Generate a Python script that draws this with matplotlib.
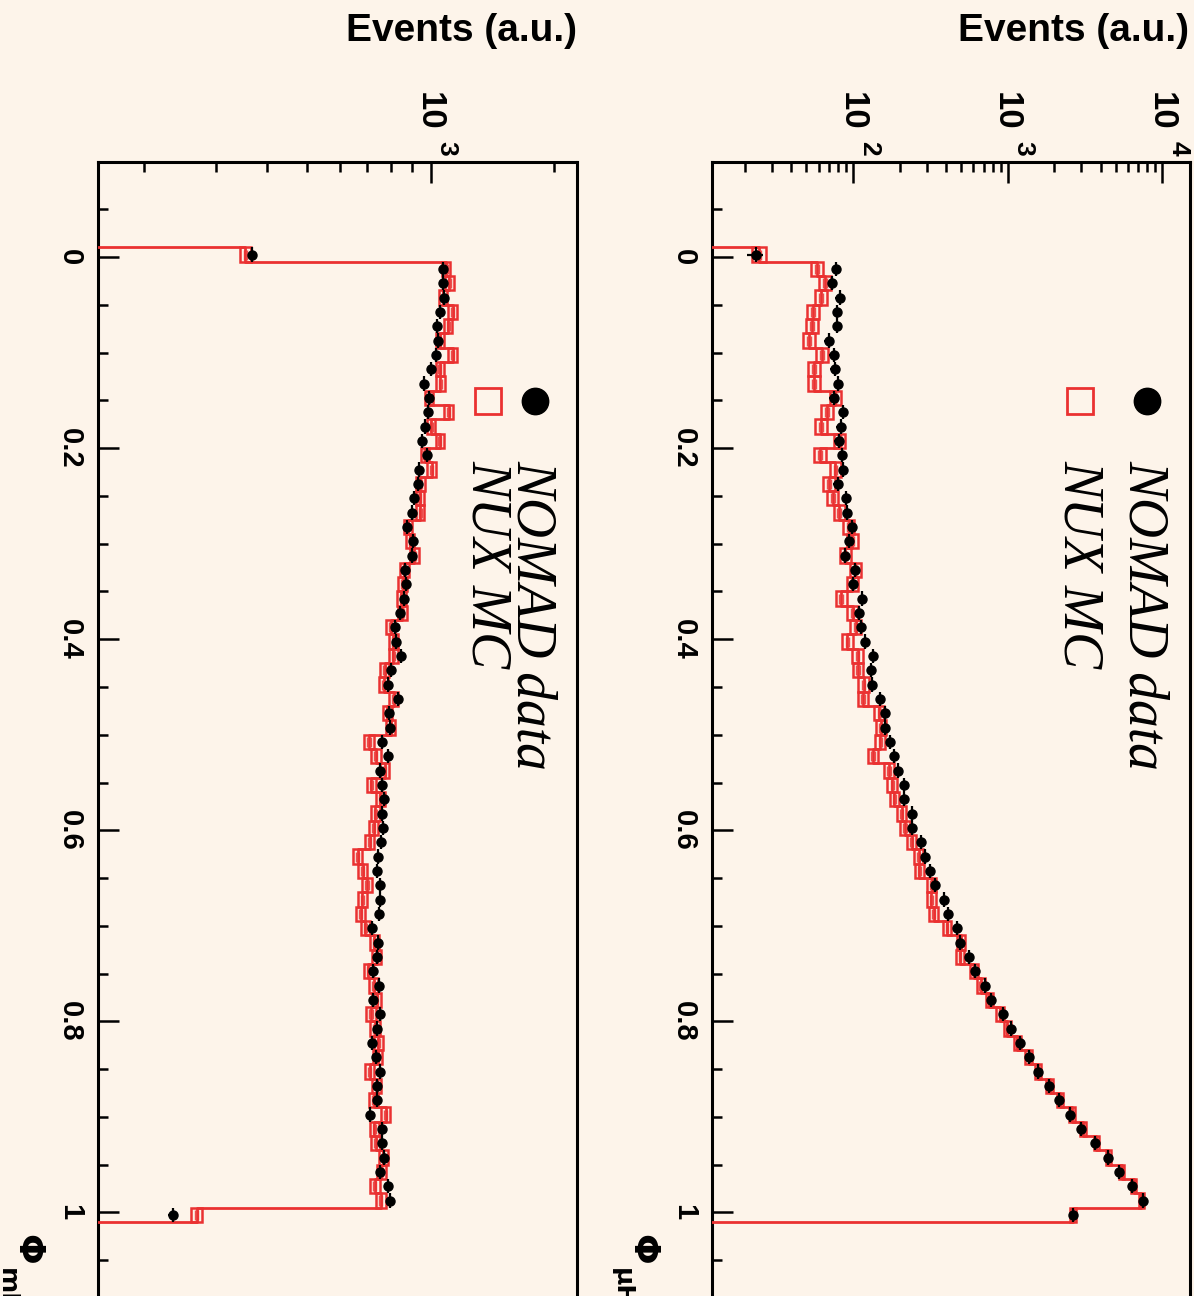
#!/usr/bin/env python3
"""NOMAD data vs NUX MC, Phi distributions (rotated ROOT-style page)."""

import numpy as np
import matplotlib

matplotlib.use("Agg")

import matplotlib.pyplot as plt
from matplotlib.patches import Rectangle
from matplotlib.ticker import FixedLocator, LogLocator, MultipleLocator, NullFormatter

# binning of both histograms: 80 bins from -0.1 to 1.1, filled bins start at bin 6
PHI_LO, PHI_HI, N_BINS = -0.1, 1.1, 80
FIRST_BIN = 6

# right panel (Phi_muH), events per bin
mu_data = [23.5, 78, 73.5, 82, 79, 79, 70, 75, 76.5, 80,
           75, 86.5, 83, 81, 85, 86, 79.5, 90.5, 92, 98,
           94, 89, 103.5, 100, 115, 109, 113, 120, 135, 131,
           133, 150, 160, 160, 173, 184, 196, 215, 213, 242,
           242, 274, 293, 313, 338, 388, 412, 471, 495, 560,
           619, 711, 778, 930, 1054, 1205, 1384, 1575, 1857, 2133,
           2512, 2991, 3650, 4450, 5270, 6400, 7480, 2630]
mu_mc = [24.7, 58.7, 65.9, 62, 55, 54, 51.7, 63, 55.7, 56,
         77, 68, 62, 82, 61, 77, 70, 74, 81.5, 94,
         98.7, 88.8, 103.5, 99, 84, 99.5, 104, 92, 107, 107.5,
         117, 116, 148, 151, 150, 135, 171, 179, 185, 206,
         217, 240, 266, 269, 322, 320, 333, 405, 497, 491,
         604, 670, 761, 894, 993, 1153, 1371, 1571, 1870, 2182,
         2597, 3070, 3750, 4480, 5470, 6520, 7330, 2655]

# left panel (Phi_mH)
mh_data = [368, 1073, 1070, 1078, 1057, 1036, 1042, 1032, 1004, 965,
           989, 985, 972, 951, 978, 937, 933, 911, 902, 877,
           907, 899, 867, 871, 862, 843, 817, 824, 848, 802,
           787, 833, 791, 796, 762, 786, 754, 762, 768, 761,
           764, 757, 746, 739, 754, 754, 749, 721, 744, 740,
           726, 749, 724, 751, 739, 721, 736, 752, 739, 741,
           710, 760, 760, 770, 754, 788, 797, 236]
mh_mc = [354, 1091, 1111, 1072, 1132, 1104, 1054, 1132, 1054, 1057,
         992, 1107, 1003, 1054, 969, 1006, 945, 942, 943, 881,
         891, 912, 862, 856, 848, 854, 800, 811, 811, 774,
         769, 813, 785, 800, 708, 736, 773, 717, 755, 733,
         727, 710, 664, 683, 700, 682, 676, 693, 730, 739,
         705, 727, 740, 716, 732, 746, 743, 710, 739, 727,
         778, 730, 735, 767, 758, 732, 757, 269]

phi_ticks = [0, 0.2, 0.4, 0.6, 0.8, 1]
phi_ticklabels = ["0", "0.2", "0.4", "0.6", "0.8", "1"]

W, H = 1194, 1296
BG = "#fdf4ea"
RED = "#ea3131"
BOLD = {"family": "Liberation Sans", "weight": "bold"}


def fig_text(fig, x_px, y_px, s, **kw):
    return fig.text(x_px / W, 1 - y_px / H, s, rotation=-90, rotation_mode="anchor", **kw)


def draw_panel(fig, rect_px, xlim, data, mc, data_k, mc_a, log_labels, legend_px, phi_title):
    l, r, t, b = rect_px
    ax = fig.add_axes([l / W, 1 - b / H, (r - l) / W, (b - t) / H])
    ax.set_facecolor(BG)
    ax.set_xscale("log")
    ax.set_xlim(*xlim)
    ax.set_ylim(PHI_HI, PHI_LO)

    edges = np.linspace(PHI_LO, PHI_HI, N_BINS + 1)
    data = np.asarray(data, float)
    mc = np.asarray(mc, float)
    n = len(data)
    lo_e = edges[FIRST_BIN:FIRST_BIN + n]
    hi_e = edges[FIRST_BIN + 1:FIRST_BIN + n + 1]
    centers = 0.5 * (lo_e + hi_e)

    # MC step histogram (empty bins sit on the left frame)
    full = np.full(N_BINS, xlim[0] * 0.5)
    full[FIRST_BIN:FIRST_BIN + n] = mc
    xs = np.repeat(full, 2)
    ys = np.column_stack([edges[:-1], edges[1:]]).ravel()
    ax.plot(xs, ys, color=RED, lw=2.0, zorder=3)

    # MC error boxes with inner hatch lines
    rel = mc_a * mc ** -0.186
    for v, e0, e1, rr in zip(mc, lo_e, hi_e, rel):
        h = np.log10(1 + rr)
        x0, x1 = v * 10 ** -h, v * 10 ** h
        ax.add_patch(Rectangle((x0, e0), x1 - x0, e1 - e0, facecolor="none",
                               edgecolor=RED, lw=1.8, zorder=3))
        pad = 0.15 * (e1 - e0)
        ax.vlines([v * 10 ** (-h / 3), v * 10 ** (h / 3)], e0 + pad, e1 - pad,
                  color=RED, lw=1.0, alpha=0.85, zorder=3)

    # data points
    derr = np.sqrt(data * data_k)
    ax.errorbar(data, centers, xerr=derr, yerr=0.5 * (hi_e - lo_e), fmt="o", color="black",
                ms=6.5, elinewidth=1.6, capsize=0, zorder=5)

    # axes cosmetics
    for sp in ax.spines.values():
        sp.set_linewidth(2.2)
    ax.yaxis.set_major_locator(FixedLocator(phi_ticks))
    ax.yaxis.set_minor_locator(MultipleLocator(0.05))
    ax.xaxis.set_major_locator(LogLocator(base=10))
    ax.xaxis.set_minor_locator(LogLocator(base=10, subs=np.arange(2, 10)))
    ax.xaxis.set_minor_formatter(NullFormatter())
    ax.tick_params(which="both", direction="in", top=True, bottom=False, left=True, right=False,
                   labeltop=False, labelbottom=False, labelleft=False, width=1.8)
    ax.tick_params(which="major", length=15)
    ax.tick_params(which="minor", length=7.5)

    # Phi tick labels, rotated like the page
    for v, s in zip(phi_ticks, phi_ticklabels):
        y_px = H - ax.transData.transform((xlim[0], v))[1]
        fig_text(fig, l - 28, y_px, s, ha="center", va="center", fontsize=21, **BOLD)

    # log tick labels: "10" with exponent
    for val, exp in log_labels:
        x_px = ax.transData.transform((val, 0))[0]
        fig_text(fig, x_px - 1, 111, "10", ha="center", va="center", fontsize=25, **BOLD)
        fig_text(fig, x_px + 16, 148, exp, ha="center", va="center", fontsize=19, **BOLD)

    fig.text(r / W, 1 - 31 / H, "Events (a.u.)", ha="right", va="center", fontsize=28, **BOLD)

    # legend
    cx_data, cx_mc, leg_y = legend_px
    fig.lines.append(plt.Line2D([cx_data / W], [1 - leg_y / H], transform=fig.transFigure,
                                marker="o", ms=19, color="black", ls="none"))
    fig.lines.append(plt.Line2D([cx_mc / W], [1 - leg_y / H], transform=fig.transFigure,
                                marker="s", ms=19, mfc="none", mec=RED, mew=2.0, ls="none"))
    fig_text(fig, cx_data - 17, 460, "NOMAD data", ha="left", va="baseline",
             fontsize=40, family="Liberation Serif", style="italic")
    fig_text(fig, cx_mc - 15, 460, "NUX MC", ha="left", va="baseline",
             fontsize=40, family="Liberation Serif", style="italic")

    # axis title, cut by the page edge
    tx, sub = phi_title
    fig_text(fig, tx, 1234, "\u03a6", ha="left", va="center", fontsize=26,
             family="DejaVu Sans", weight="bold")
    fig_text(fig, tx - 20, 1268, sub, ha="left", va="center", fontsize=18,
             family="DejaVu Sans", weight="bold")
    return ax


fig = plt.figure(figsize=(W / 100, H / 100), dpi=100)
fig.patch.set_facecolor(BG)

draw_panel(fig, (712.3, 1189.5, 161.5, 1308.0), (12.3, 15000), mu_data, mu_mc, 0.33, 0.197,
           [(100, "2"), (1000, "3"), (10000, "4")], (1147, 1080, 401), (642, "\u03bcH"))
draw_panel(fig, (98.3, 576.5, 161.5, 1308.0), (155, 2268), mh_data, mh_mc, 0.21, 0.089,
           [(1000, "3")], (535, 488, 401), (27, "mH"))

fig.savefig("out.png", dpi=100, facecolor=BG)
